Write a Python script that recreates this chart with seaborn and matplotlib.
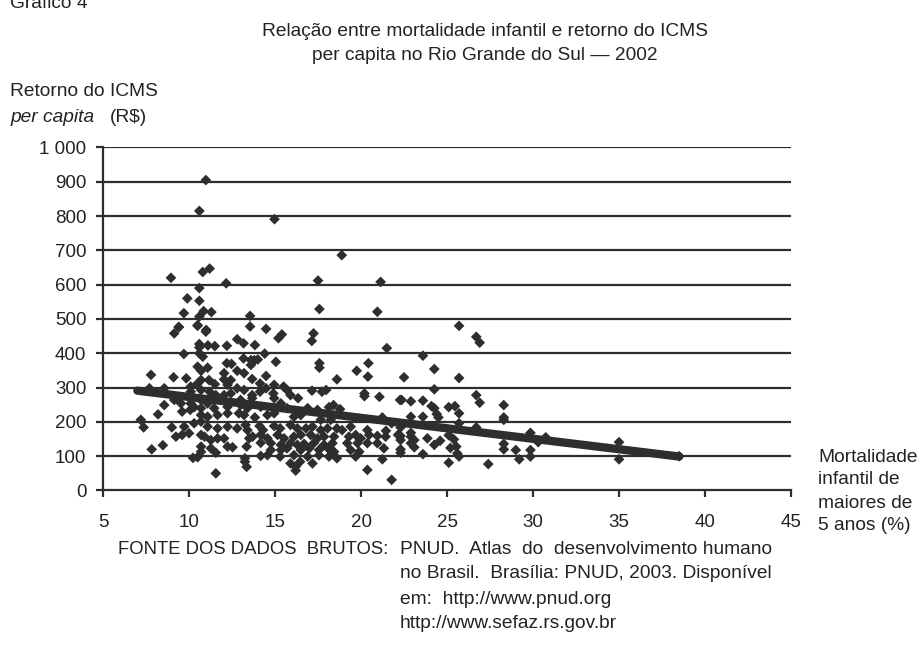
import numpy as np
import pandas as pd
import matplotlib
matplotlib.use("Agg")
import matplotlib.pyplot as plt
import seaborn as sns

# mortalidade infantil de maiores de 5 anos (%) x retorno do ICMS per capita (R$)
mortalidade = [
    10.98, 10.6, 8.95, 10.8, 11.2, 12.16, 10.6, 9.9, 10.6, 9.7, 10.85, 11.3, 10.6, 13.55, 9.4, 10.5, 13.55, 11.0,
    14.97, 18.88, 17.5, 21.14, 17.58, 20.95, 14.48,
    25.7, 26.7, 26.9, 23.6, 24.26, 22.5, 25.7, 24.26, 22.36, 22.9, 23.6, 24.1, 24.26, 24.4, 24.5, 25.1, 25.46,
    25.7, 26.7, 26.9, 28.3, 28.3, 28.3, 22.9, 23.6, 25.7, 26.7, 29.85, 30.74, 30.3, 21.78, 22.3, 22.3, 22.3,
    22.3, 22.3, 22.9, 23.1, 22.9, 23.1, 22.9, 23.86, 24.26, 24.6, 23.6, 25.1, 25.4, 25.2, 25.54, 25.6, 25.7,
    25.1, 27.4, 28.3, 28.3, 29.0, 29.2, 29.85, 29.85, 21.78,
    35.0, 35.0, 38.5,
    9.14, 9.41, 10.5, 10.98, 10.6, 10.6, 11.1, 11.5, 12.2, 12.8, 13.17, 9.7, 10.6, 10.8, 13.17, 12.2, 12.47,
    10.5, 11.08, 10.7, 12.8, 13.2, 12.04, 7.79, 9.1, 9.84, 10.7, 11.16, 12.04, 12.43, 10.5, 11.5, 12.24, 10.1,
    10.7, 7.7, 8.56, 12.8, 13.2, 10.1, 11.2, 11.56, 12.04, 12.43, 9.14, 9.53, 10.1, 10.7, 11.08, 8.56, 10.3,
    10.7, 11.46, 12.24, 13.0, 13.4, 8.2, 9.6, 10.07, 10.7, 11.08, 11.66, 12.24, 12.9, 7.2, 7.36, 9.0, 9.72,
    10.3, 10.7, 11.08, 11.66, 12.24, 12.8, 13.4, 9.24, 9.6, 10.0, 10.7, 10.9, 11.27, 11.66, 12.04, 13.5, 8.48,
    7.83, 10.7, 11.27, 12.24, 12.53, 13.35, 10.7, 11.56, 10.23, 10.5, 13.25, 13.25, 13.35, 11.56,
    13.83, 15.2, 15.4, 17.24, 17.14, 21.5, 14.4, 13.6, 13.8, 14.0, 13.6, 15.05, 17.58, 17.58, 20.43, 19.75,
    20.4, 14.48, 13.67, 18.6, 14.13, 14.95, 15.5, 14.48, 14.13, 14.9, 15.7, 15.9, 16.34, 17.15, 17.73, 17.97,
    20.2, 20.2, 21.07, 22.27, 13.67, 13.67, 13.0, 14.95, 14.17, 15.34, 15.7, 16.9, 17.47, 18.14, 18.4, 18.78,
    21.24, 13.2, 13.83, 14.56, 14.95, 16.1, 16.5, 17.66, 18.24, 13.29, 14.1, 14.3, 14.95, 15.3, 15.9, 16.3,
    16.8, 17.18, 17.66, 18.05, 18.6, 18.9, 19.4, 20.37, 21.45, 22.15, 13.7, 14.17, 14.56, 15.15, 15.53, 16.1,
    16.5, 17.08, 17.47, 17.85, 18.43, 19.3, 19.69, 19.98, 20.47, 20.95, 21.43, 14.17, 14.76, 15.34, 15.9, 16.3,
    16.69, 17.27, 17.85, 18.34, 19.2, 19.8, 20.37, 20.95, 21.33, 14.76, 15.34, 15.7, 16.5, 17.0, 17.56, 18.08,
    18.43, 19.4, 19.9, 14.17, 14.56, 15.3, 16.1, 16.9, 17.56, 18.14, 18.6, 19.69, 21.24, 15.9, 16.2, 16.46,
    17.18, 16.2, 20.37,
]
icms = [
    905, 815, 620, 637, 647, 604, 590, 560, 553, 517, 523, 520, 507, 509, 477, 482, 478, 468,
    791, 686, 612, 608, 529, 521, 471,
    480, 448, 431, 393, 354, 330, 328, 295, 264, 260, 262, 246, 240, 223, 213, 243, 246,
    225, 278, 256, 249, 213, 206, 215, 215, 196, 184, 168, 155, 141, 196, 184, 159, 147,
    120, 110, 157, 147, 138, 126, 168, 152, 133, 145, 106, 161, 149, 124, 128, 108, 99,
    81, 77, 136, 120, 118, 91, 118, 99, 31,
    141, 91, 100,
    458, 476, 480, 463, 427, 417, 423, 421, 422, 441, 429, 398, 400, 390, 385, 371, 369,
    361, 358, 349, 349, 342, 342, 337, 330, 327, 322, 322, 324, 322, 312, 310, 308, 303,
    293, 298, 298, 298, 293, 288, 288, 278, 278, 283, 264, 254, 254, 264, 254, 249, 243,
    240, 240, 244, 249, 240, 222, 230, 235, 220, 215, 220, 225, 225, 206, 184, 184, 186,
    196, 201, 186, 181, 186, 181, 176, 157, 162, 167, 162, 157, 147, 152, 152, 152, 132,
    120, 128, 123, 128, 126, 128, 113, 110, 95, 97, 94, 84, 69, 50,
    424, 444, 455, 458, 436, 415, 399, 380, 380, 382, 366, 375, 371, 358, 371, 349,
    332, 334, 325, 324, 312, 308, 303, 298, 288, 283, 293, 278, 269, 291, 288, 293,
    283, 275, 273, 264, 278, 269, 264, 269, 244, 254, 240, 240, 235, 243, 249, 237,
    213, 220, 213, 220, 225, 215, 220, 206, 206, 191, 188, 176, 188, 181, 191, 181,
    181, 186, 176, 181, 181, 176, 186, 176, 174, 162, 157, 162, 152, 162, 152, 157,
    162, 162, 152, 157, 157, 157, 162, 152, 162, 159, 157, 139, 138, 133, 138, 133,
    136, 139, 133, 138, 138, 138, 138, 138, 123, 118, 118, 123, 118, 123, 118, 123,
    113, 118, 113, 101, 103, 99, 103, 99, 103, 99, 94, 99, 91, 79, 69, 84,
    79, 58, 60,
]

# linha de tendencia (extremos)
tendencia_x = [7.0, 38.5]
tendencia_y = [291, 99]

x_ticks = [5, 10, 15, 20, 25, 30, 35, 40, 45]
y_ticks = [0, 100, 200, 300, 400, 500, 600, 700, 800, 900, 1000]
y_tick_labels = ["0", "100", "200", "300", "400", "500", "600", "700", "800", "900", "1 000"]

df = pd.DataFrame({"mortalidade": mortalidade, "icms": icms})
df_tend = pd.DataFrame({"x": tendencia_x, "y": tendencia_y})

sns.set_theme(style="white")
plt.rcParams["font.family"] = ["Liberation Sans", "DejaVu Sans"]

ink = "#2e2e2e"
fs = 13.8

fig = plt.figure(figsize=(9.23, 6.64), dpi=100)
ax = fig.add_axes([0.1116, 0.2613, 0.7454, 0.5166])

for yv in y_ticks[1:]:
    ax.axhline(yv, color=ink, lw=1.6, zorder=1)

sns.scatterplot(data=df, x="mortalidade", y="icms", marker="D", s=30,
                color=ink, edgecolor="none", linewidth=0, ax=ax, zorder=3)
sns.lineplot(data=df_tend, x="x", y="y", color=ink, lw=6, ax=ax,
             solid_capstyle="round", zorder=4)

ax.set_xlim(5, 45)
ax.set_ylim(0, 1000)
ax.set_xticks(x_ticks)
ax.set_yticks(y_ticks)
ax.set_yticklabels(y_tick_labels)
ax.set_xlabel("")
ax.set_ylabel("")

for side in ["top", "right"]:
    ax.spines[side].set_visible(False)
for side in ["left", "bottom"]:
    ax.spines[side].set_color(ink)
    ax.spines[side].set_linewidth(1.6)
ax.tick_params(axis="both", direction="out", length=5, width=1.6, color=ink,
               labelsize=13.5, labelcolor="#222222", left=True, bottom=True)
ax.tick_params(axis="x", pad=12)
ax.tick_params(axis="y", pad=7)

txt = dict(color="#222222", fontsize=fs)
fig.text(10 / 923, 1 - 4 / 664, "Gráfico 4", ha="left", va="center", **txt)
fig.text(485 / 923, 1 - 32 / 664, "Relação entre mortalidade infantil e retorno do ICMS",
         ha="center", va="center", **txt)
fig.text(485 / 923, 1 - 56 / 664, "per capita no Rio Grande do Sul — 2002",
         ha="center", va="center", **txt)
fig.text(10 / 923, 1 - 91 / 664, "Retorno do ICMS", ha="left", va="center", **txt)
fig.text(10 / 923, 1 - 117 / 664, "per capita", ha="left", va="center", style="italic", **txt)
fig.text(110 / 923, 1 - 117 / 664, "(R$)", ha="left", va="center", **txt)

rotulo_x = ["Mortalidade", "infantil de", "maiores de", "5 anos (%)"]
for i, linha in enumerate(rotulo_x):
    fig.text(818 / 923, 1 - (457 + 23 * i) / 664, linha, ha="left", va="center", **txt)

fig.text(118 / 923, 1 - 549 / 664, "FONTE DOS DADOS  BRUTOS:", ha="left", va="center",
         color="#222222", fontsize=13.3)
fonte = ["PNUD.  Atlas  do  desenvolvimento humano",
         "no Brasil.  Brasília: PNUD, 2003. Disponível",
         "em:  http://www.pnud.org",
         "http://www.sefaz.rs.gov.br"]
for i, linha in enumerate(fonte):
    fig.text(400 / 923, 1 - (549 + 25 * i) / 664, linha, ha="left", va="center", **txt)

fig.savefig("out.png", dpi=100)
